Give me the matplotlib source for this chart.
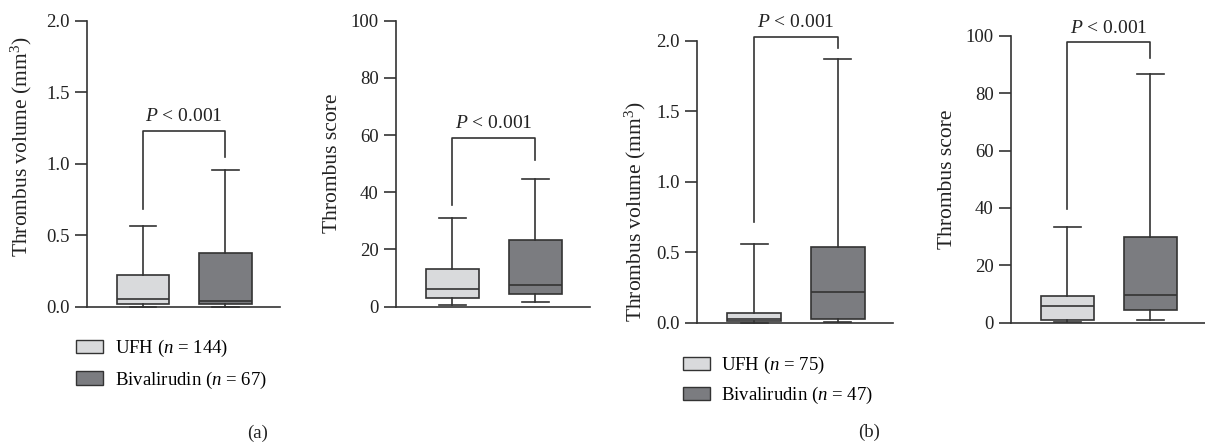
import matplotlib.pyplot as plt
from matplotlib.patches import Patch

plt.rcParams['font.family'] = ['Liberation Serif', 'DejaVu Serif']
plt.rcParams['mathtext.fontset'] = 'custom'
plt.rcParams['mathtext.rm'] = 'Liberation Serif'
plt.rcParams['mathtext.it'] = 'Liberation Serif:italic'
plt.rcParams['font.size'] = 13.5

groups = ['UFH', 'Bivalirudin']
box_colors = ['#d9dadc', '#7b7c80']
line_color = '#333333'
text_color = '#222222'

# (a) thrombus volume, UFH vs bivalirudin
a_vol_lo = [0.0, 0.0]
a_vol_q1 = [0.019, 0.019]
a_vol_med = [0.052, 0.042]
a_vol_q3 = [0.22, 0.373]
a_vol_hi = [0.564, 0.956]

# (a) thrombus score
a_scr_lo = [0.5, 1.6]
a_scr_q1 = [2.9, 4.3]
a_scr_med = [6.1, 7.6]
a_scr_q3 = [13.1, 23.4]
a_scr_hi = [30.9, 44.7]

# (b) thrombus volume
b_vol_lo = [0.0, 0.002]
b_vol_q1 = [0.01, 0.024]
b_vol_med = [0.024, 0.22]
b_vol_q3 = [0.066, 0.538]
b_vol_hi = [0.559, 1.875]

# (b) thrombus score
b_scr_lo = [0.2, 0.9]
b_scr_q1 = [0.9, 4.4]
b_scr_med = [5.8, 9.5]
b_scr_q3 = [9.4, 29.8]
b_scr_hi = [33.5, 86.7]

# significance brackets: left leg bottom, right leg bottom, top, text
brackets = [
    (0.68, 1.05, 1.23, 1.27),
    (35.6, 51.3, 59.1, 61.0),
    (0.717, 1.95, 2.03, 2.07),
    (39.7, 92.2, 97.8, 99.8),
]
p_text = '$P$ < 0.001'

vol_label = 'Thrombus volume (mm$^3$)'
scr_label = 'Thrombus score'
vol_ticks = [0.0, 0.5, 1.0, 1.5, 2.0]
scr_ticks = [0, 20, 40, 60, 80, 100]

legend_a = ['UFH ($n$ = 144)', 'Bivalirudin ($n$ = 67)']
legend_b = ['UFH ($n$ = 75)', 'Bivalirudin ($n$ = 47)']


def make_stats(lo, q1, med, q3, hi):
    return [dict(whislo=lo[i], q1=q1[i], med=med[i], q3=q3[i], whishi=hi[i],
                 fliers=[], label=groups[i]) for i in range(len(groups))]


panels = [
    ([0.0722, 0.3077, 0.160, 0.6456], make_stats(a_vol_lo, a_vol_q1, a_vol_med, a_vol_q3, a_vol_hi),
     vol_ticks, ['0.0', '0.5', '1.0', '1.5', '2.0'], vol_label, (-0.275, 0.56)),
    ([0.3286, 0.3077, 0.161, 0.6456], make_stats(a_scr_lo, a_scr_q1, a_scr_med, a_scr_q3, a_scr_hi),
     scr_ticks, [str(t) for t in scr_ticks], scr_label, (-0.28, 0.5)),
    ([0.5787, 0.2716, 0.1624, 0.6359], make_stats(b_vol_lo, b_vol_q1, b_vol_med, b_vol_q3, b_vol_hi),
     vol_ticks, ['0.0', '0.5', '1.0', '1.5', '2.0'], vol_label, (-0.25, 0.394)),
    ([0.8390, 0.2716, 0.161, 0.6472], make_stats(b_scr_lo, b_scr_q1, b_scr_med, b_scr_q3, b_scr_hi),
     scr_ticks, [str(t) for t in scr_ticks], scr_label, (-0.28, 0.5)),
]

fig = plt.figure(figsize=(12.05, 4.43), dpi=100)

for (rect, stats, ticks, ticklabels, ylabel, lab_xy), br in zip(panels, brackets):
    ax = fig.add_axes(rect)
    lw = 1.2
    bp = ax.bxp(stats, positions=[1, 2], widths=0.64, patch_artist=True,
                showfliers=False, capwidths=0.32,
                boxprops=dict(edgecolor=line_color, linewidth=lw),
                medianprops=dict(color=line_color, linewidth=lw),
                whiskerprops=dict(color=line_color, linewidth=lw),
                capprops=dict(color=line_color, linewidth=lw))
    for patch, c in zip(bp['boxes'], box_colors):
        patch.set_facecolor(c)
    for art in bp['caps'] + bp['whiskers']:
        art.set_clip_on(False)

    ax.set_xlim(0.32, 2.66)
    ax.set_ylim(ticks[0], ticks[-1])
    ax.set_yticks(ticks)
    ax.set_yticklabels(ticklabels)
    ax.set_xticks([])
    for side in ['top', 'right']:
        ax.spines[side].set_visible(False)
    for side in ['left', 'bottom']:
        ax.spines[side].set_color(line_color)
        ax.spines[side].set_linewidth(lw)
    ax.tick_params(axis='y', direction='out', length=8.5, width=lw,
                   color=line_color, pad=4, labelsize=13.5, labelcolor=text_color)
    ax.set_ylabel(ylabel, fontsize=15.5, color=text_color)
    ax.yaxis.set_label_coords(*lab_xy)

    left_bot, right_bot, top, ty = br
    ax.plot([1, 1, 2, 2], [left_bot, top, top, right_bot], color=line_color,
            linewidth=lw, clip_on=False)
    ax.text(1.5, ty, p_text, ha='center', va='bottom', fontsize=14, color=text_color)

handles = [Patch(facecolor=c, edgecolor=line_color, linewidth=1.0) for c in box_colors]
fig.legend(handles, legend_a, loc='upper left', bbox_to_anchor=(0.063, 0.237),
           frameon=False, borderpad=0, borderaxespad=0, handlelength=1.45,
           handleheight=0.72, handletextpad=0.65, labelspacing=0.55, fontsize=13.5)
fig.legend(handles, legend_b, loc='upper left', bbox_to_anchor=(0.567, 0.198),
           frameon=False, borderpad=0, borderaxespad=0, handlelength=1.45,
           handleheight=0.72, handletextpad=0.55, labelspacing=0.45, fontsize=13.5)

fig.text(0.2139, 0.022, '(a)', ha='center', va='center', fontsize=13.5, color=text_color)
fig.text(0.7214, 0.023, '(b)', ha='center', va='center', fontsize=13.5, color=text_color)

fig.savefig('out.png', dpi=100)
